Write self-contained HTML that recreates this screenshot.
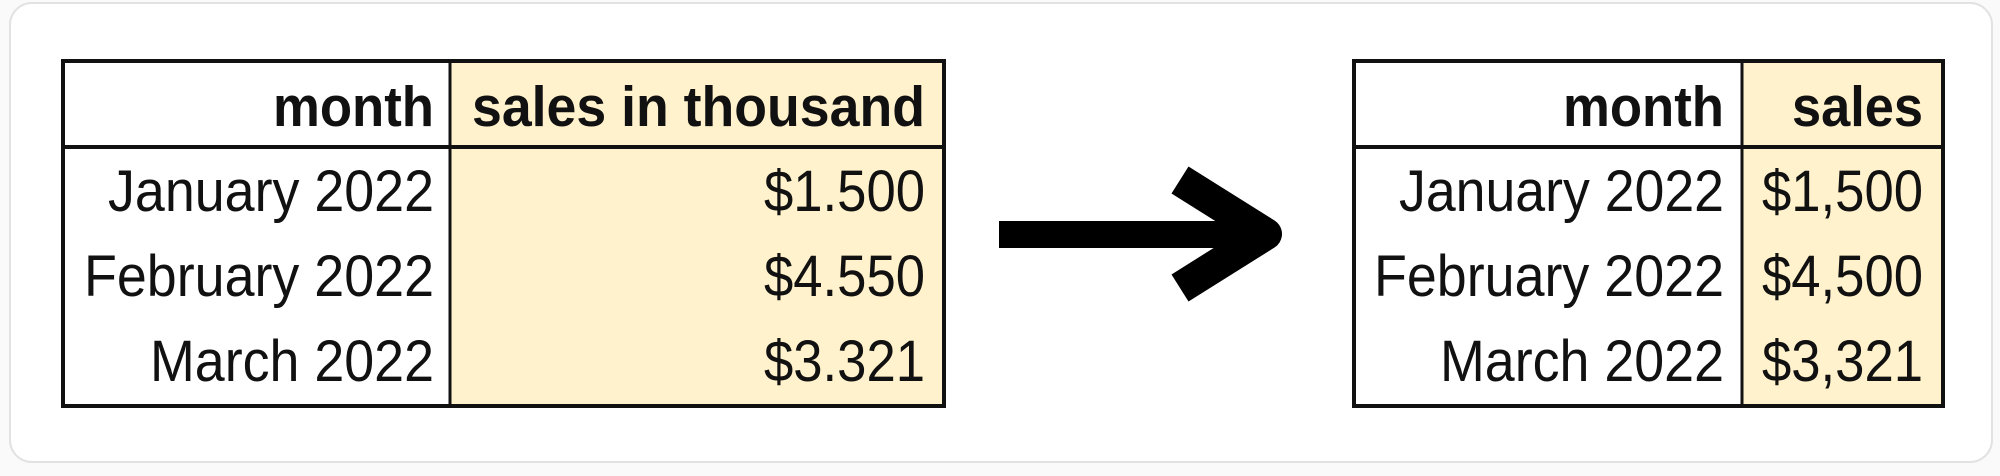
<!DOCTYPE html>
<html><head><meta charset="utf-8"><style>
html,body{margin:0;padding:0;background:#fafafa;}
svg{display:block;}
text{font-family:"Liberation Sans",Arial,sans-serif;fill:#111;}
</style></head><body>
<svg width="2000" height="476" viewBox="0 0 2000 476">
<rect x="10" y="3" width="1982" height="459" rx="22" fill="#fff" stroke="#e2e2e2" stroke-width="2"/>
<g>
<rect x="450" y="61" width="494" height="345" fill="#fff2cc"/>
<rect x="63" y="61" width="881" height="345" fill="none" stroke="#111" stroke-width="4"/>
<line x1="63" y1="147" x2="944" y2="147" stroke="#111" stroke-width="4"/>
<line x1="450" y1="61" x2="450" y2="406" stroke="#111" stroke-width="3"/>
<text x="434" y="126" text-anchor="end" font-weight="bold" font-size="57" textLength="161" lengthAdjust="spacingAndGlyphs">month</text>
<text x="925" y="126" text-anchor="end" font-weight="bold" font-size="57" textLength="453" lengthAdjust="spacingAndGlyphs">sales in thousand</text>
<text x="434" y="211" text-anchor="end" font-size="58" textLength="326" lengthAdjust="spacingAndGlyphs">January 2022</text>
<text x="434" y="296" text-anchor="end" font-size="58" textLength="350" lengthAdjust="spacingAndGlyphs">February 2022</text>
<text x="434" y="381" text-anchor="end" font-size="58" textLength="284" lengthAdjust="spacingAndGlyphs">March 2022</text>
<text x="925" y="211" text-anchor="end" font-size="58" textLength="161" lengthAdjust="spacingAndGlyphs">$1.500</text>
<text x="925" y="296" text-anchor="end" font-size="58" textLength="161" lengthAdjust="spacingAndGlyphs">$4.550</text>
<text x="925" y="381" text-anchor="end" font-size="58" textLength="161" lengthAdjust="spacingAndGlyphs">$3.321</text>
</g>
<g>
<rect x="999" y="221" width="255" height="27" fill="#000"/>
<polyline points="1180,180 1266,234 1180,288" fill="none" stroke="#000" stroke-width="32" stroke-linejoin="round"/>
</g>
<g>
<rect x="1742" y="61" width="201" height="345" fill="#fff2cc"/>
<rect x="1354" y="61" width="589" height="345" fill="none" stroke="#111" stroke-width="4"/>
<line x1="1354" y1="147" x2="1943" y2="147" stroke="#111" stroke-width="4"/>
<line x1="1742" y1="61" x2="1742" y2="406" stroke="#111" stroke-width="3"/>
<text x="1724" y="126" text-anchor="end" font-weight="bold" font-size="57" textLength="161" lengthAdjust="spacingAndGlyphs">month</text>
<text x="1923" y="126" text-anchor="end" font-weight="bold" font-size="57" textLength="131" lengthAdjust="spacingAndGlyphs">sales</text>
<text x="1724" y="211" text-anchor="end" font-size="58" textLength="325" lengthAdjust="spacingAndGlyphs">January 2022</text>
<text x="1724" y="296" text-anchor="end" font-size="58" textLength="350" lengthAdjust="spacingAndGlyphs">February 2022</text>
<text x="1724" y="381" text-anchor="end" font-size="58" textLength="284" lengthAdjust="spacingAndGlyphs">March 2022</text>
<text x="1923" y="211" text-anchor="end" font-size="58" textLength="161" lengthAdjust="spacingAndGlyphs">$1,500</text>
<text x="1923" y="296" text-anchor="end" font-size="58" textLength="161" lengthAdjust="spacingAndGlyphs">$4,500</text>
<text x="1923" y="381" text-anchor="end" font-size="58" textLength="161" lengthAdjust="spacingAndGlyphs">$3,321</text>
</g>
</svg>
</body></html>
